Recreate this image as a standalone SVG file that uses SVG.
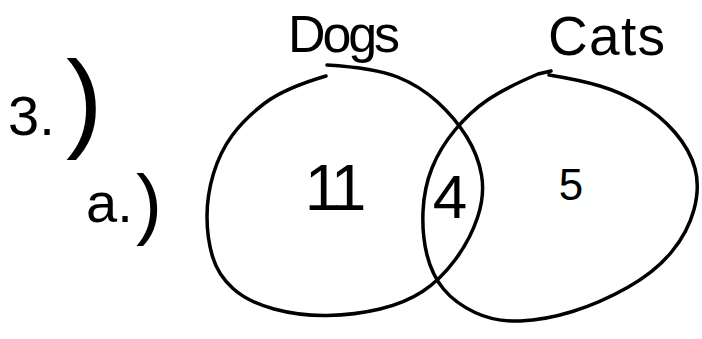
<svg xmlns="http://www.w3.org/2000/svg" width="702" height="339" viewBox="0 0 702 339">
<style>
.ink{fill:none;stroke:#000;stroke-width:3.5;stroke-linecap:round;stroke-linejoin:round}
.t{font-family:"Liberation Sans",Arial,sans-serif;fill:#000}
</style>
<rect width="702" height="339" fill="#fff"/>
<g id="question-label">
<text class="t" x="8" y="135" font-size="56">3.</text>
<text class="t" x="66" y="137" font-size="110">)</text>
<text class="t" x="86" y="222" font-size="56">a.</text>
<text class="t" x="136" y="230" font-size="78">)</text>
</g>
<g id="dogs">
<path class="ink" d="M326,76 Q285,88 265,103 Q245,118 232.5,135 Q220,152 213.5,173.5 Q207,195 207,216.5 Q207,238 212.5,256.5 Q218,275 233,288.5 Q248,302 274,309 Q300,316 327.5,315.5 Q355,315 380,309 Q405,303 422.5,291.5 Q440,280 455,260 Q470,240 477.5,217.5 Q485,195 481.5,175 Q478,155 466.5,136.5 Q455,118 437.5,102 Q420,86 397.5,77 Q375,68 327,65"/>
<text class="t" x="288" y="52" font-size="52" textLength="112" lengthAdjust="spacing">Dogs</text>
<text class="t" x="333" y="210" font-size="64" text-anchor="middle" letter-spacing="-5">11</text>
</g>
<g id="cats">
<path class="ink" d="M551,71 L538,74 Q505,88 487.5,100 Q470,112 455,130 Q440,148 432,168 Q424,188 423,211.5 Q422,235 427,255 Q432,275 443.5,289 Q455,303 475,312.5 Q495,322 520,321 Q545,320 572.5,311.5 Q600,303 627.5,287.5 Q655,272 671.5,252 Q688,232 694,209.5 Q700,187 695,168.5 Q690,150 675,132.5 Q660,115 640,103.5 Q620,92 600,86 Q580,80 549,75"/>
<text class="t" x="548" y="55" font-size="55" textLength="117" lengthAdjust="spacing">Cats</text>
<text class="t" x="571" y="200" font-size="44" text-anchor="middle">5</text>
</g>
<g id="intersection">
<text class="t" x="450" y="218" font-size="62" text-anchor="middle">4</text>
</g>
</svg>
